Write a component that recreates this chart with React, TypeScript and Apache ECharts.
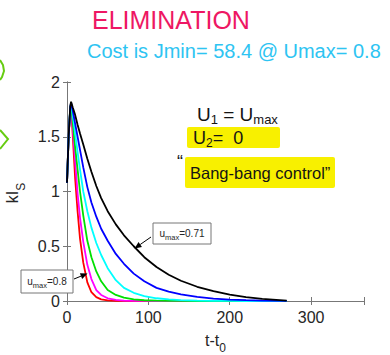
import React, { useEffect, useRef } from 'react';
import * as echarts from 'echarts';

// time after dose (t - t0)
const tVals = [0, 2, 4, 5, 7, 10, 13, 16, 20, 25, 30, 36, 42, 50, 60, 70, 82, 95, 110, 125, 140, 160, 180, 200, 220, 240, 270];

// kI_S for different u_max (red = 0.8 ... black = 0.71)
const redV = [1.08, 1.5, 1.75, 1.77, 1.52, 1.12, 0.82, 0.57, 0.35, 0.17, 0.08, 0.035, 0.015, 0.006, 0.002, 0.001, 0, 0, 0, 0, 0, 0, 0, 0, 0, 0, 0];
const magentaV = [1.08, 1.5, 1.76, 1.78, 1.58, 1.28, 0.98, 0.76, 0.54, 0.33, 0.2, 0.1, 0.055, 0.025, 0.01, 0.004, 0.002, 0.001, 0, 0, 0, 0, 0, 0, 0, 0, 0];
const greenV = [1.08, 1.5, 1.77, 1.79, 1.64, 1.4, 1.2, 1.0, 0.78, 0.55, 0.4, 0.27, 0.18, 0.1, 0.055, 0.03, 0.015, 0.007, 0.003, 0.0015, 0.001, 0, 0, 0, 0, 0, 0];
const cyanV = [1.08, 1.5, 1.77, 1.8, 1.7, 1.53, 1.36, 1.2, 1.0, 0.82, 0.67, 0.53, 0.42, 0.3, 0.19, 0.12, 0.075, 0.045, 0.025, 0.014, 0.008, 0.004, 0.002, 0.001, 0, 0, 0];
const blueV = [1.08, 1.5, 1.77, 1.81, 1.74, 1.62, 1.5, 1.38, 1.22, 1.04, 0.9, 0.77, 0.66, 0.55, 0.43, 0.34, 0.25, 0.18, 0.12, 0.085, 0.06, 0.037, 0.022, 0.013, 0.008, 0.004, 0.001];
const blackV = [1.08, 1.5, 1.78, 1.82, 1.77, 1.7, 1.61, 1.53, 1.43, 1.3, 1.18, 1.05, 0.94, 0.82, 0.7, 0.6, 0.5, 0.4, 0.31, 0.24, 0.185, 0.13, 0.09, 0.058, 0.035, 0.02, 0.004];

const seriesList = [
  { name: 'red', color: '#ff0000', values: redV },
  { name: 'magenta', color: '#ff00ff', values: magentaV },
  { name: 'green', color: '#00e000', values: greenV },
  { name: 'cyan', color: '#00ffff', values: cyanV },
  { name: 'blue', color: '#0000ff', values: blueV },
  { name: 'black', color: '#000000', values: blackV },
];

const xTicks = [0, 100, 200, 300];
const yTicks = [0, 0.5, 1, 1.5, 2];

const FONT = '"Liberation Sans", Arial, Helvetica, sans-serif';
const AXIS_COLOR = '#777777';
const LABEL_COLOR = '#262626';

function arrow(x1: number, y1: number, x2: number, y2: number) {
  const dx = x2 - x1;
  const dy = y2 - y1;
  const len = Math.sqrt(dx * dx + dy * dy);
  const ux = dx / len;
  const uy = dy / len;
  const hl = 7;
  const hw = 3;
  const bx = x2 - ux * hl;
  const by = y2 - uy * hl;
  const nx = -uy;
  const ny = ux;
  return [
    {
      type: 'line',
      shape: { x1, y1, x2: bx, y2: by },
      style: { stroke: '#000', lineWidth: 1 },
      z: 20,
    },
    {
      type: 'polygon',
      shape: { points: [[x2, y2], [bx + nx * hw, by + ny * hw], [bx - nx * hw, by - ny * hw]] },
      style: { fill: '#000' },
      z: 20,
    },
  ];
}

function boxLabel(x: number, y: number, w: number, h: number, value: string) {
  return [
    {
      type: 'rect',
      shape: { x, y, width: w, height: h },
      style: { fill: '#ffffff', stroke: AXIS_COLOR, lineWidth: 1 },
      z: 20,
    },
    {
      type: 'text',
      x: x + w / 2,
      y: y + h / 2,
      z: 21,
      style: {
        text: '{a|u}{b|max}{a|=' + value + '}',
        align: 'center',
        verticalAlign: 'middle',
        textAlign: 'center',
        textVerticalAlign: 'middle',
        rich: {
          a: { fontSize: 10, fontFamily: FONT, fill: LABEL_COLOR, lineHeight: 16, verticalAlign: 'middle' },
          b: { fontSize: 7.5, fontFamily: FONT, fill: LABEL_COLOR, lineHeight: 16, verticalAlign: 'bottom' },
        },
      },
    },
  ];
}

export default function App() {
  const ref = useRef<HTMLDivElement>(null);

  useEffect(() => {
    const chart = echarts.init(ref.current!, null, { renderer: 'svg' });

    const handColor = '#141414';
    const graphic: any[] = [
      // green scribbles at the left edge
      {
        type: 'polyline',
        shape: { points: [[0, 60], [3, 65], [4, 71], [2, 77], [0, 80]] },
        style: { stroke: '#66cc11', lineWidth: 2, fill: null },
      },
      {
        type: 'polyline',
        shape: { points: [[0, 130], [8, 139], [0, 149]] },
        style: { stroke: '#66cc11', lineWidth: 2, fill: null },
      },
      // handwritten titles
      {
        type: 'text',
        x: 92,
        y: 20,
        style: {
          text: 'ELIMINATION',
          fontSize: 25,
          fontFamily: FONT,
          fill: '#ee1763',
          align: 'left',
          verticalAlign: 'middle',
          textAlign: 'left',
          textVerticalAlign: 'middle',
        },
      },
      {
        type: 'text',
        x: 87,
        y: 51,
        style: {
          text: 'Cost is Jmin= 58.4 @ Umax= 0.8',
          fontSize: 20,
          fontFamily: FONT,
          fill: '#2ec4f2',
          align: 'left',
          verticalAlign: 'middle',
          textAlign: 'left',
          textVerticalAlign: 'middle',
        },
      },
      // yellow highlights
      {
        type: 'rect',
        shape: { x: 187, y: 127, width: 93, height: 21, r: 2 },
        style: { fill: '#f8f000' },
        z: 5,
      },
      {
        type: 'rect',
        shape: { x: 185, y: 157, width: 150, height: 31, r: 2 },
        style: { fill: '#f8f000' },
        z: 5,
      },
      {
        type: 'text',
        x: 197,
        y: 114,
        z: 6,
        style: {
          text: '{a|U}{s|1}{a| = U}{s|max}',
          align: 'left',
          verticalAlign: 'middle',
          textAlign: 'left',
          textVerticalAlign: 'middle',
          rich: {
            a: { fontSize: 19, fontFamily: FONT, fill: handColor, lineHeight: 24, verticalAlign: 'middle' },
            s: { fontSize: 13, fontFamily: FONT, fill: handColor, lineHeight: 24, verticalAlign: 'bottom' },
          },
        },
      },
      {
        type: 'text',
        x: 193,
        y: 138,
        z: 6,
        style: {
          text: '{a|U}{s|2}{a|=  0}',
          align: 'left',
          verticalAlign: 'middle',
          textAlign: 'left',
          textVerticalAlign: 'middle',
          rich: {
            a: { fontSize: 18, fontFamily: FONT, fill: handColor, lineHeight: 22, verticalAlign: 'middle' },
            s: { fontSize: 12, fontFamily: FONT, fill: handColor, lineHeight: 22, verticalAlign: 'bottom' },
          },
        },
      },
      {
        type: 'text',
        x: 177,
        y: 162,
        z: 6,
        style: {
          text: '\u201C',
          fontSize: 18,
          fontFamily: FONT,
          fill: handColor,
          align: 'left',
          verticalAlign: 'middle',
          textAlign: 'left',
          textVerticalAlign: 'middle',
        },
      },
      {
        type: 'text',
        x: 190,
        y: 173,
        z: 6,
        style: {
          text: 'Bang-bang control\u201D',
          fontSize: 16.5,
          fontFamily: FONT,
          fill: handColor,
          align: 'left',
          verticalAlign: 'middle',
          textAlign: 'left',
          textVerticalAlign: 'middle',
        },
      },
      // axis titles
      {
        type: 'text',
        x: 12.5,
        y: 193,
        rotation: Math.PI / 2,
        style: {
          text: '{a|kI}{b|S}',
          align: 'center',
          verticalAlign: 'middle',
          textAlign: 'center',
          textVerticalAlign: 'middle',
          rich: {
            a: { fontSize: 16, fontFamily: FONT, fill: LABEL_COLOR, lineHeight: 28, verticalAlign: 'middle' },
            b: { fontSize: 12, fontFamily: FONT, fill: LABEL_COLOR, lineHeight: 28, verticalAlign: 'bottom' },
          },
        },
      },
      {
        type: 'text',
        x: 215.5,
        y: 340,
        style: {
          text: '{a|t-t}{b|0}',
          align: 'center',
          verticalAlign: 'middle',
          textAlign: 'center',
          textVerticalAlign: 'middle',
          rich: {
            a: { fontSize: 16, fontFamily: FONT, fill: LABEL_COLOR, lineHeight: 28, verticalAlign: 'middle' },
            b: { fontSize: 12, fontFamily: FONT, fill: LABEL_COLOR, lineHeight: 28, verticalAlign: 'bottom' },
          },
        },
      },
      // data tips
      ...boxLabel(153, 223, 58, 21, '0.71'),
      ...arrow(151, 237, 134.5, 248.5),
      ...boxLabel(21, 270, 52, 23, '0.8'),
      ...arrow(74, 279, 87.5, 273.5),
    ];

    const axisCommon = {
      type: 'value',
      axisLine: { show: true, lineStyle: { color: AXIS_COLOR, width: 1 } },
      axisTick: { show: true, inside: true, length: 4, lineStyle: { color: AXIS_COLOR } },
      splitLine: { show: false },
    };

    chart.setOption({
      animation: false,
      backgroundColor: '#ffffff',
      grid: { left: 67, right: 26, top: 82, bottom: 54, containLabel: false, outerBoundsMode: 'none' },
      xAxis: [
        {
          ...axisCommon,
          position: 'bottom',
          min: 0,
          max: 365,
          interval: 100,
          axisLabel: {
            margin: 8,
            fontSize: 16,
            fontFamily: FONT,
            color: LABEL_COLOR,
            formatter: (v: number) => (xTicks.indexOf(v) >= 0 ? String(v) : ''),
          },
        },
        {
          ...axisCommon,
          position: 'top',
          min: 0,
          max: 365,
          interval: 100,
          axisLabel: { show: false },
        },
      ],
      yAxis: [
        {
          ...axisCommon,
          position: 'left',
          min: 0,
          max: 2,
          interval: 0.5,
          axisLabel: {
            margin: 7,
            fontSize: 16,
            fontFamily: FONT,
            color: LABEL_COLOR,
            formatter: (v: number) => (yTicks.indexOf(v) >= 0 ? String(v) : ''),
          },
        },
        {
          ...axisCommon,
          position: 'right',
          min: 0,
          max: 2,
          interval: 0.5,
          axisLabel: { show: false },
        },
      ],
      series: seriesList.map((s) => ({
        name: s.name,
        type: 'line',
        xAxisIndex: 0,
        yAxisIndex: 0,
        showSymbol: false,
        smooth: false,
        lineStyle: { color: s.color, width: 1.8 },
        itemStyle: { color: s.color },
        data: tVals.map((t, i) => [t, s.values[i]]),
      })),
      graphic,
    });

    return () => chart.dispose();
  }, []);

  return (
    <div
      ref={ref}
      style={{ position: 'absolute', left: 0, top: 0, width: 390, height: 355, background: '#fff' }}
    />
  );
}
